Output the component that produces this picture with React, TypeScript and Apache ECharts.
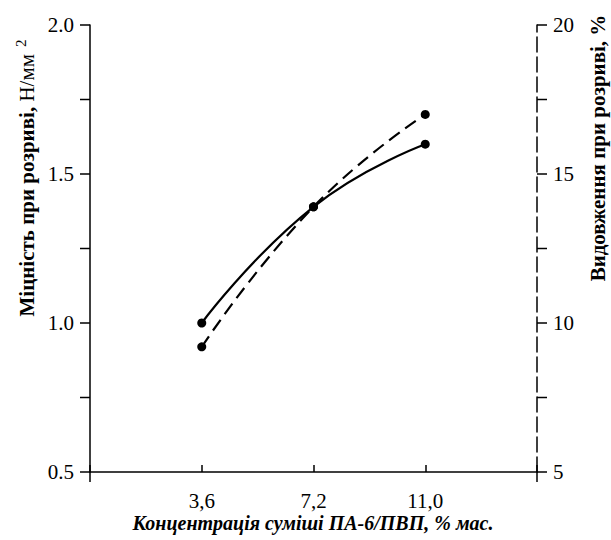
import React, { useEffect, useRef } from "react";
import * as echarts from "echarts";

const categories = ["", "3,6", "7,2", "11,0", ""];
const strength = [null, 1.0, 1.39, 1.6, null];
const elongation = [null, 9.2, 13.9, 17.0, null];
const leftTickValues = [0.5, 0.75, 1.0, 1.25, 1.5, 1.75, 2.0];
const rightTickValues = [5, 7.5, 10, 12.5, 15, 17.5, 20];

const FONT = "Liberation Serif";
const BFONT = "Liberation Serif, DejaVu Serif, serif";

export default function App() {
  const ref = useRef<HTMLDivElement>(null);
  useEffect(() => {
    if (!ref.current) return;
    const chart = echarts.init(ref.current, undefined, { renderer: "svg" });
    chart.setOption({
      animation: false,
      backgroundColor: "#ffffff",
      grid: { left: 90, right: 74, top: 25, bottom: 68 },
      xAxis: {
        type: "category",
        data: categories,
        boundaryGap: false,
        axisLine: { lineStyle: { color: "#000", width: 1.5 } },
        axisTick: { inside: true, length: 7, lineStyle: { color: "#000", width: 1.5 }, alignWithLabel: true },
        axisLabel: { color: "#000", fontFamily: FONT, fontSize: 21, margin: 18 },
        splitLine: { show: false },
      },
      yAxis: [
        {
          type: "value",
          min: 0.5,
          max: 2.0,
          interval: 0.5,
          axisLine: { show: true, lineStyle: { color: "#000", width: 1.5 } },
          axisTick: { show: false },
          axisLabel: {
            color: "#000",
            fontFamily: FONT,
            fontSize: 21,
            margin: 16,
            formatter: (v: number) => v.toFixed(1),
          },
          splitLine: { show: false },
        },
        {
          type: "value",
          min: 5,
          max: 20,
          interval: 5,
          position: "right",
          axisLine: { show: true, lineStyle: { color: "#000", width: 1.5, type: [15, 5] } },
          axisTick: { show: false },
          axisLabel: { color: "#000", fontFamily: FONT, fontSize: 21, margin: 16 },
          splitLine: { show: false },
        },
      ],
      series: [
        {
          name: "strength",
          type: "line",
          yAxisIndex: 0,
          data: strength,
          smooth: true,
          symbol: "circle",
          symbolSize: 9,
          itemStyle: { color: "#000" },
          lineStyle: { color: "#000", width: 2.2 },
        },
        {
          name: "elongation",
          type: "line",
          yAxisIndex: 1,
          data: elongation,
          smooth: true,
          symbol: "circle",
          symbolSize: 9,
          itemStyle: { color: "#000" },
          lineStyle: { color: "#000", width: 2.2, type: [13, 7] },
        },
      ],
    });

    const xl = chart.convertToPixel({ xAxisIndex: 0 }, 0) as number;
    const xr = chart.convertToPixel({ xAxisIndex: 0 }, categories.length - 1) as number;
    const yBottom = chart.convertToPixel({ yAxisIndex: 0 }, leftTickValues[0]) as number;
    const tickStyle = { stroke: "#000", lineWidth: 1.5 };
    const ticks: any[] = [];
    leftTickValues.forEach((v) => {
      const y = chart.convertToPixel({ yAxisIndex: 0 }, v) as number;
      ticks.push({ type: "line", shape: { x1: xl - 10, y1: y, x2: xl, y2: y }, style: tickStyle, silent: true });
    });
    rightTickValues.forEach((v) => {
      const y = chart.convertToPixel({ yAxisIndex: 1 }, v) as number;
      ticks.push({ type: "line", shape: { x1: xr, y1: y, x2: xr + 10, y2: y }, style: tickStyle, silent: true });
    });
    ticks.push({ type: "line", shape: { x1: xl, y1: yBottom, x2: xl, y2: yBottom + 10 }, style: tickStyle, silent: true });
    ticks.push({ type: "line", shape: { x1: xr, y1: yBottom, x2: xr, y2: yBottom + 10 }, style: tickStyle, silent: true });

    chart.setOption({
      graphic: [
        ...ticks,
        {
          type: "text",
          x: 313,
          y: 523,
          style: {
            text: "Концентрація суміші ПА-6/ПВП, % мас.",
            font: "italic bold 20px Liberation Serif, DejaVu Serif, serif",
            fill: "#000",
            align: "center",
            verticalAlign: "middle",
          },
        },
        {
          type: "text",
          x: 27,
          y: 178,
          rotation: Math.PI / 2,
          style: {
            text: "{a|Міцність при розриві, }{b|Н/мм}{s|2}",
            align: "center",
            verticalAlign: "middle",
            fill: "#000",
            rich: {
              a: { fontFamily: BFONT, fontWeight: "bold", fontSize: 21, fill: "#000" },
              b: { fontFamily: FONT, fontSize: 21, fill: "#000" },
              s: { fontFamily: FONT, fontSize: 15, fill: "#000", verticalAlign: "top", padding: [0, 0, 12, 7] },
            },
          },
        },
        {
          type: "text",
          x: 598,
          y: 148,
          rotation: Math.PI / 2,
          style: {
            text: "Видовження при розриві, %",
            fontFamily: BFONT,
            fontWeight: "bold",
            fontSize: 21,
            fill: "#000",
            align: "center",
            verticalAlign: "middle",
          },
        },
      ],
    });
    return () => chart.dispose();
  }, []);
  return (
    <div
      ref={ref}
      style={{ position: "fixed", left: 0, top: 0, width: 611, height: 540, background: "#fff" }}
    />
  );
}
